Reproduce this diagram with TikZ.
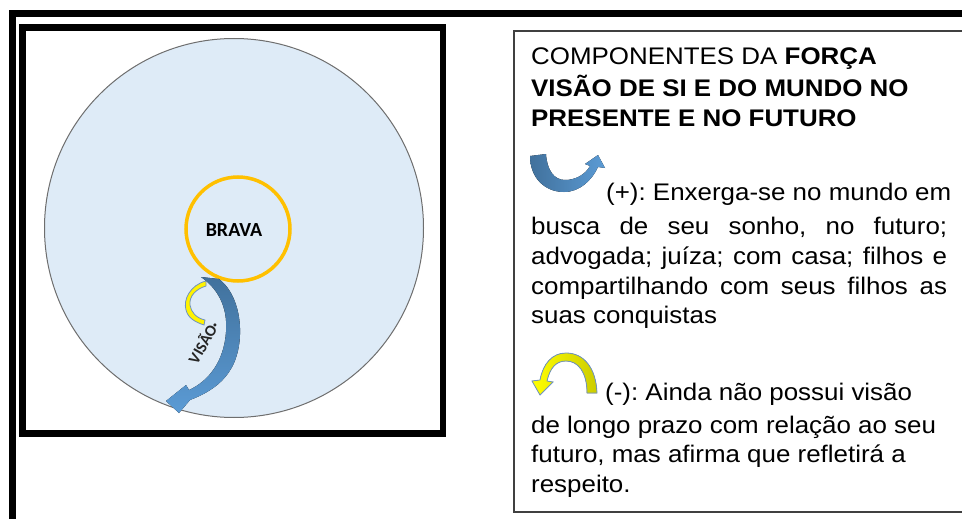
\documentclass[tikz,border=0pt]{standalone}
\usepackage{fontspec}
\usepackage{tikz}
\usetikzlibrary{positioning}
\setmainfont{Liberation Sans}
\newfontfamily\arialx[FakeStretch=1.08]{Liberation Sans}
\newfontfamily\calib{Carlito}
\definecolor{bgblue}{HTML}{DEEBF7}
\definecolor{ringorange}{HTML}{FFC000}
\definecolor{arrowdark}{HTML}{41719C}
\definecolor{arrowlight}{HTML}{5B9BD5}
\definecolor{edgegray}{HTML}{6E6E6E}
\definecolor{bandblue}{HTML}{6F93C0}
\newcommand{\jline}[1]{\makebox[416pt][s]{#1}}
\frenchspacing

\begin{document}
\begin{tikzpicture}[x=1pt,y=-1pt]
	\useasboundingbox (0,0) rectangle (962,519);
	\draw[line width=7] (12,519) -- (12,14) -- (962,14);
	\draw[line width=6.5] (22.5,27.5) rectangle (443,433.5);
	\draw[line width=1.8, black!75] (962,31) -- (514,31) -- (514,512) -- (962,512);

	\begin{scope}[every node/.style={circle, inner sep=0}]
		\node[draw=edgegray, fill=bgblue, line width=1, minimum size=379] (world) at (234,228) {};
		\node[draw=ringorange, line width=3.5, minimum size=104] (brava) at (238,229) {};
	\end{scope}
	\node[font=\calib\bfseries\fontsize{20}{20}\selectfont] (bravatxt) at (234,230) {BRAVA};

	\filldraw[fill=yellow, draw=bandblue, line width=0.8] (206,281) .. controls (190,285) and (183,300) .. (186,310)
		.. controls (188,318) and (195,322) .. (204,325) -- (205,320)
		.. controls (196,318) and (191,312) .. (190,305)
		.. controls (189,296) and (196,289) .. (206,286) -- cycle;
	\fill[top color=arrowdark, bottom color=arrowlight] (219,279) .. controls (244,298) and (246,348) .. (229,372)
		.. controls (219,387) and (203,395) .. (190,400) -- (179,413) -- (166,401) -- (186,385) -- (189,390)
		.. controls (209,381) and (224,361) .. (226,332)
		.. controls (228,306) and (217,288) .. (201,277) -- cycle;
	\node[rotate=60, font=\calib\bfseries\fontsize{16}{16}\selectfont, text=black!85] (vision) at (203,342) {VISÃO·};

	\fill[left color=arrowdark, right color=arrowlight] (530,156) .. controls (530,178) and (545,192) .. (564,192)
		.. controls (580,192) and (592,180) .. (598,167) -- (605,168) -- (598,155) -- (585,164) -- (590,166)
		.. controls (585,175) and (575,180) .. (565,180)
		.. controls (554,180) and (547,170) .. (546,154) -- cycle;
	\filldraw[left color=yellow, right color=yellow!80!black, draw=bandblue, line width=0.8] (597,393) .. controls (596,368) and (584,353) .. (566,353)
		.. controls (552,353) and (543,364) .. (540,380) -- (532,381) -- (540,395) -- (553,382) -- (547,381)
		.. controls (550,368) and (556,361) .. (566,361)
		.. controls (578,361) and (587,372) .. (587,393) -- cycle;

	\begin{scope}[every node/.style={anchor=base west, inner sep=0, font=\arialx\fontsize{24}{28}\selectfont}]
		\node (t1) at (531,65) {COMPONENTES DA \textbf{FORÇA}};
		\node (t2) at (531,96) {\textbf{VISÃO DE SI E DO MUNDO NO}};
		\node (t3) at (531,127) {\textbf{PRESENTE E NO FUTURO}};
		\node (p1) at (606,200) {(+): Enxerga-se no mundo em};
		\node (p2) at (531,234) {\jline{busca de seu sonho, no futuro;}};
		\node (p3) at (531,264) {\jline{advogada; juíza; com casa; filhos e}};
		\node (p4) at (531,294) {\jline{compartilhando com seus filhos as}};
		\node (p5) at (531,323) {suas conquistas};
		\node (m1) at (605,400) {(-): Ainda não possui visão};
		\node (m2) at (531,433) {de longo prazo com relação ao seu};
		\node (m3) at (531,462) {futuro, mas afirma que refletirá a};
		\node (m4) at (531,492) {respeito.};
	\end{scope}
\end{tikzpicture}
\end{document}
